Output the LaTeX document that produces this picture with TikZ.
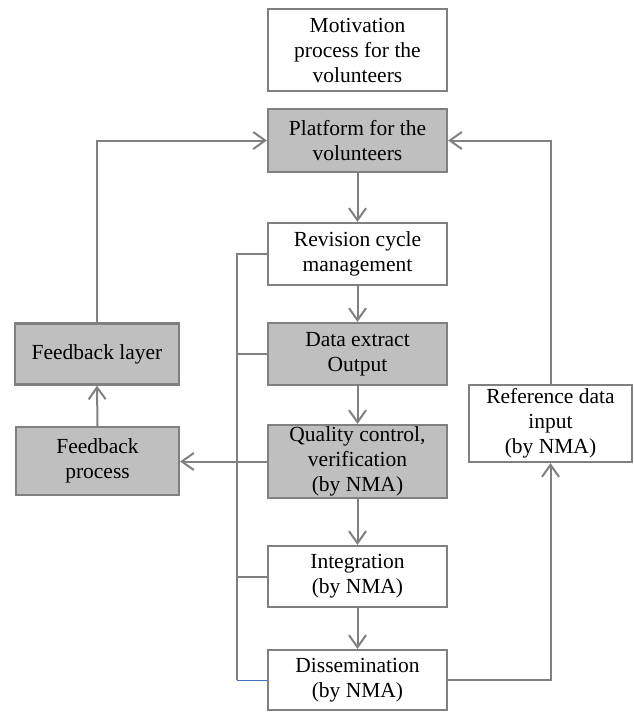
\documentclass[tikz,border=0pt]{standalone}
\usepackage{fontspec}
\setmainfont{Liberation Serif}
\usetikzlibrary{arrows.meta}
\definecolor{lnc}{RGB}{128,128,128}
\definecolor{fillg}{RGB}{191,191,191}
\definecolor{blc}{RGB}{68,114,196}
\begin{document}
\begin{tikzpicture}[x=1pt,y=-1pt,
  box/.style={draw=lnc,line width=2.2pt,fill=white,align=center,inner sep=0pt,
    font=\fontsize{21.5}{25}\selectfont},
  gbox/.style={box,fill=fillg},
  arr/.style={draw=lnc,line width=2pt,-{Straight Barb[length=12pt,width=17pt,line width=2pt]}},
  conn/.style={draw=lnc,line width=2pt}]
\useasboundingbox (0,0) rectangle (633,712);
% main column
\node[box,minimum width=179pt,minimum height=82pt] (mot) at (357.5,50) {Motivation\\process for the\\volunteers};
\node[gbox,minimum width=179pt,minimum height=63pt] (plat) at (357.5,140.5) {Platform for the\\volunteers};
\node[box,minimum width=179pt,minimum height=62pt] (rev) at (357.5,254) {Revision cycle\\management};
\node[gbox,minimum width=179pt,minimum height=62pt] (data) at (357.5,354) {Data extract\\Output};
\node[gbox,minimum width=179pt,minimum height=73pt] (qual) at (357.5,461.5) {Quality control,\\verification\\(by NMA)};
\node[box,minimum width=179pt,minimum height=61pt] (integ) at (357.5,576.5) {Integration\\(by NMA)};
\node[box,minimum width=179pt,minimum height=60pt] (diss) at (357.5,680) {Dissemination\\(by NMA)};
% side boxes
\node[gbox,minimum width=164pt,minimum height=61pt] (fbl) at (97,354) {Feedback layer};
\node[gbox,minimum width=163pt,minimum height=68pt] (fbp) at (97.5,461) {Feedback\\process};
\node[box,minimum width=163pt,minimum height=77pt] (ref) at (550.5,423.5) {Reference data\\input\\(by NMA)};
% bus
\coordinate (bus) at (237,0);
% vertical flow
\draw[arr] (plat.south) -- (rev.north);
\draw[arr] (rev.south) -- (data.north);
\draw[arr] (data.south) -- (qual.north);
\draw[arr] (qual.south) -- (integ.north);
\draw[arr] (integ.south) -- (diss.north);
% feedback loop
\draw[arr] (fbp.north) -- (fbl.south);
\draw[arr] (fbl.north) |- (plat.west);
\draw[arr] (ref.north) |- (plat.east);
\draw[arr] (diss.east) -| (ref.south);
\draw[arr] (qual.west) -- (qual.west -| fbp.east);
% bus line
\draw[conn] (rev.west) -- (rev.west -| bus) -- (diss.west -| bus);
\draw[conn] (data.west) -- (data.west -| bus);
\draw[conn] (integ.west) -- (integ.west -| bus);
\draw[draw=blc,line width=1pt] (diss.west -| bus) -- (diss.west);
\end{tikzpicture}
\end{document}
